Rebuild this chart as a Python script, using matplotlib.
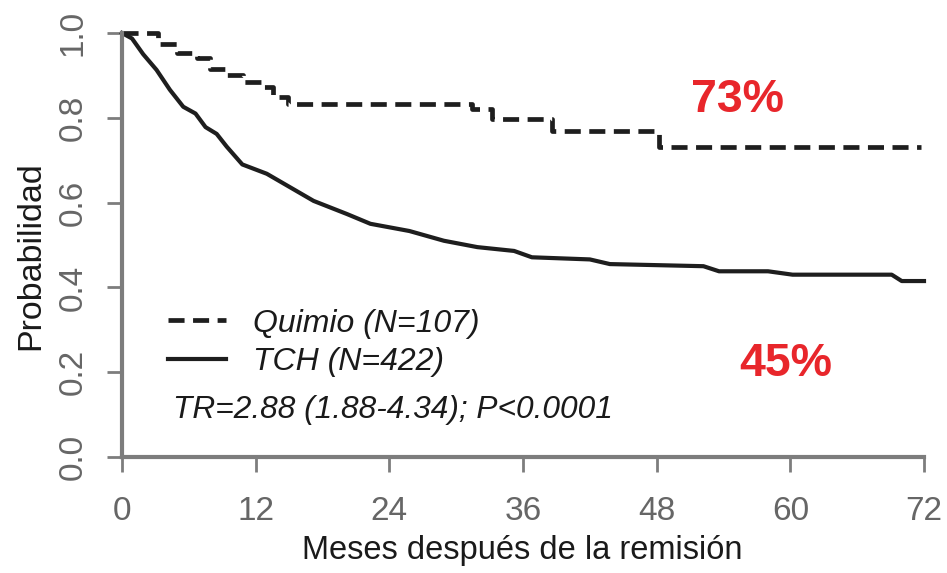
import matplotlib
matplotlib.use("Agg")
import matplotlib.pyplot as plt

# Kaplan-Meier curves (months, survival probability)
quimio_t = [0, 3.2, 4.9, 6.7, 7.9, 9.4, 10.9, 12.7, 13.6, 14.9, 31.4, 33.2, 38.6, 48.2, 71.7]
quimio_s = [1.0, 0.975, 0.952, 0.94, 0.916, 0.90, 0.885, 0.873, 0.849, 0.832, 0.821, 0.798, 0.770, 0.731, 0.731]

tch_t = [0, 0.9, 1.9, 3.1, 4.3, 5.5, 6.6, 7.5, 8.5, 9.4, 10.8, 13.0, 15.1, 17.2, 20.2, 22.3,
         25.8, 28.9, 31.9, 35.2, 36.8, 42.0, 43.8, 52.2, 53.6, 58.0, 60.2, 69.1, 70.0, 72.0]
tch_s = [1.0, 0.987, 0.95, 0.913, 0.866, 0.826, 0.81, 0.778, 0.762, 0.732, 0.69, 0.668, 0.636, 0.604, 0.573, 0.55,
         0.533, 0.51, 0.495, 0.486, 0.471, 0.466, 0.455, 0.45, 0.438, 0.438, 0.43, 0.43, 0.415, 0.415]

x_ticks = [0, 12, 24, 36, 48, 60, 72]
y_ticks = [0.0, 0.2, 0.4, 0.6, 0.8, 1.0]
y_tick_labels = ["0.0", "0.2", "0.4", "0.6", "0.8", "1.0"]

label_quimio = "Quimio (N=107)"
label_tch = "TCH (N=422)"
stats_text = "TR=2.88 (1.88-4.34); P<0.0001"
pct_quimio = "73%"
pct_tch = "45%"

plt.rcParams['font.family'] = ['Liberation Sans', 'DejaVu Sans']
narrow = ['Liberation Sans Narrow', 'Liberation Sans', 'DejaVu Sans']
gray = '#7d7d7d'
red = '#e8262b'

fig = plt.figure(figsize=(9.47, 5.73), dpi=100)
ax = fig.add_axes([122 / 947, (573 - 457) / 573, 802 / 947, 424 / 573])

ax.plot(quimio_t, quimio_s, drawstyle='steps-post', color='#1e1e1e', lw=3.4,
        dashes=(3.4, 1.8), clip_on=False, label=label_quimio)
ax.plot(tch_t, tch_s, color='#1e1e1e', lw=3.0, clip_on=False, label=label_tch)

ax.set_xlim(0, 72)
ax.set_ylim(0, 1.0)
ax.set_xticks(x_ticks)
ax.set_yticks(y_ticks)
ax.set_yticklabels(y_tick_labels)

for s in ['top', 'right']:
    ax.spines[s].set_visible(False)
for s in ['left', 'bottom']:
    ax.spines[s].set_color(gray)
    ax.spines[s].set_linewidth(3)

ax.tick_params(direction='out', length=11, width=2, color=gray, labelcolor='#666666')
ax.tick_params(axis='x', pad=17)
ax.tick_params(axis='y', pad=13)
for lab in ax.get_xticklabels() + ax.get_yticklabels():
    lab.set_family(narrow)
    lab.set_fontsize(24)
plt.setp(ax.get_yticklabels(), rotation=90, va='center', ha='right')

ax.set_xlabel("Meses después de la remisión", fontsize=23.5, color='#1a1a1a')
ax.xaxis.set_label_coords(0.499, -0.183)
ax.set_ylabel("Probabilidad", fontsize=24.5, color='#1a1a1a')
ax.yaxis.set_label_coords(-0.094, 0.474)

ax.legend(loc='upper left', bbox_to_anchor=(0.0574, 0.35), frameon=False,
          borderpad=0, borderaxespad=0, handlelength=1.8, handletextpad=0.85,
          labelspacing=0.27, prop={'size': 23, 'style': 'italic'}, labelcolor='#1a1a1a')

ax.text(0.0636, 0.111, stats_text, transform=ax.transAxes, fontsize=22.8,
        style='italic', va='center', ha='left', color='#1a1a1a')
ax.text(0.768, 0.842, pct_quimio, transform=ax.transAxes, fontsize=33.5,
        fontweight='bold', color=red, va='center', ha='center')
ax.text(0.828, 0.219, pct_tch, transform=ax.transAxes, fontsize=33.5,
        fontweight='bold', color=red, va='center', ha='center')

fig.savefig("out.png", dpi=100)
